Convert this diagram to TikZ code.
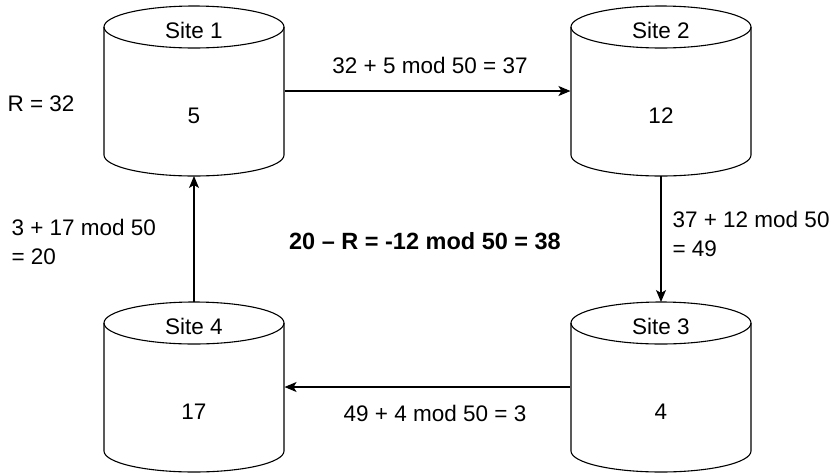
\documentclass[tikz,border=0pt]{standalone}
\usepackage{fontspec}
\setmainfont{Liberation Sans}
\usetikzlibrary{arrows.meta}
\begin{document}
\begin{tikzpicture}[x=1pt,y=1pt,line width=1.1pt,
  font=\fontsize{22.5}{29}\selectfont,
  body/.style={draw=none,minimum width=180pt,minimum height=128pt,inner sep=0pt},
  conn/.style={-{Stealth[length=12pt,width=10pt,inset=3pt]}},
  lbl/.style={inner sep=0pt}]
\useasboundingbox (0,0) rectangle (839,-475);
% cylinders
\foreach \cx/\ty/\by in {194/-27/-155, 661/-27/-155, 661/-323/-451, 194/-323/-451}{
  \draw (\cx,\ty) ellipse [x radius=90pt, y radius=21pt];
  \draw (\cx-90,\ty) -- (\cx-90,\by) arc [start angle=180, end angle=360, x radius=90pt, y radius=21pt] -- (\cx+90,\ty);
}
\node[body] (s1) at (194,-91) {};
\node[body] (s2) at (661,-91) {};
\node[body] (s3) at (661,-387) {};
\node[body] (s4) at (194,-387) {};
\coordinate (s1b) at (194,-176);
\coordinate (s2b) at (661,-176);
\coordinate (s3t) at (661,-302);
\coordinate (s4t) at (194,-302);
% texts
\node[lbl] (t1) at (194,-30) {Site 1};
\node[lbl] (v1) at (194,-116) {5};
\node[lbl] (t2) at (661,-30) {Site 2};
\node[lbl] (v2) at (661,-116) {12};
\node[lbl] (t3) at (661,-326) {Site 3};
\node[lbl] (v3) at (661,-412) {4};
\node[lbl] (t4) at (194,-326) {Site 4};
\node[lbl] (v4) at (194,-412) {17};
% connectors
\draw[conn] (s1.east) -- (s2.west);
\draw[conn] (s2b) -- (s3t);
\draw[conn] (s3.west) -- (s4.east);
\draw[conn] (s4t) -- (s1b);
% labels
\node[lbl,anchor=west] (r) at (7,-104) {R = 32};
\node[lbl] (l12) at (430,-65) {32 + 5 mod 50 = 37};
\node[lbl,anchor=west,align=left] (l23) at (672,-234) {37 + 12 mod 50\\= 49};
\node[lbl] (l34) at (435,-413) {49 + 4 mod 50 = 3};
\node[lbl,anchor=west,align=left] (l41) at (11,-242) {3 + 17 mod 50\\= 20};
\node[lbl,font=\fontsize{23.5}{29}\selectfont\bfseries] (c) at (425,-241) {20 – R = -12 mod 50 = 38};
\end{tikzpicture}
\end{document}
